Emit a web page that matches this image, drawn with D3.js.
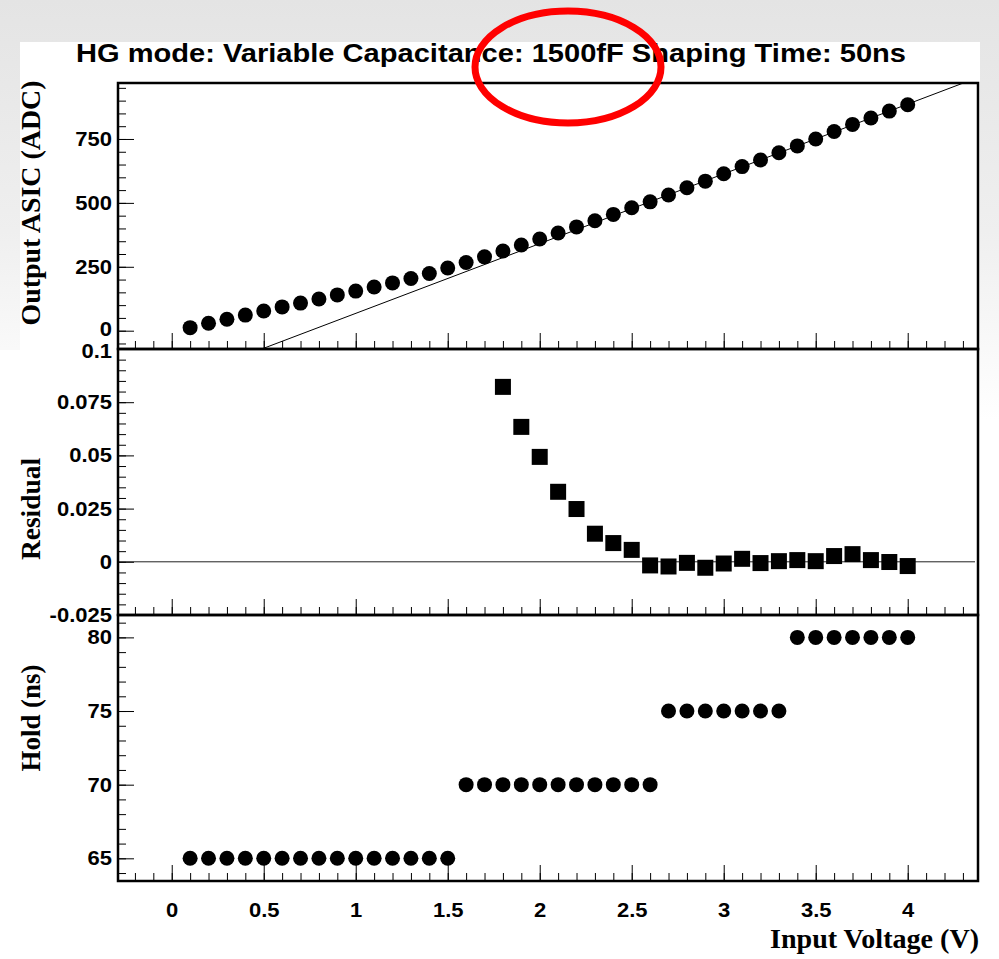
<!DOCTYPE html>
<html>
<head>
<meta charset="utf-8">
<script src="https://cdn.jsdelivr.net/npm/d3@7"></script>
<style>
  html, body { margin: 0; padding: 0; background: #fff; }
  svg { display: block; }
</style>
</head>
<body>
<svg id="chart" width="999" height="959"></svg>
<script>
// Input voltage steps (V)
const voltage = [0.1,0.2,0.3,0.4,0.5,0.6,0.7,0.8,0.9,1.0,1.1,1.2,1.3,1.4,1.5,1.6,1.7,1.8,1.9,2.0,
                 2.1,2.2,2.3,2.4,2.5,2.6,2.7,2.8,2.9,3.0,3.1,3.2,3.3,3.4,3.5,3.6,3.7,3.8,3.9,4.0];

// ASIC output (ADC counts)
const adcOutput = [12,29,45,61,77,93,108,124,140,155,171,187,204,224,245,267,289,312,335,359,
                   382,406,430,455,481,504,531,559,585,614,642,668,696,723,750,779,807,832,859,884];

// Linear fit: ADC = slope * V + intercept
const fitSlope = 272.9;
const fitIntercept = -205.1;

// Relative residuals of the fit (from 1.8 V upward)
const residualVoltage = [1.8,1.9,2.0,2.1,2.2,2.3,2.4,2.5,2.6,2.7,2.8,2.9,3.0,3.1,3.2,3.3,3.4,3.5,3.6,3.7,3.8,3.9,4.0];
const residual = [0.0822,0.0634,0.0493,0.0329,0.0248,0.0132,0.0088,0.0056,-0.0017,-0.0022,-0.0005,-0.0028,
                  -0.0008,0.0014,-0.0006,0.0003,0.0008,0.0003,0.0027,0.0036,0.0008,-0.0001,-0.0020];

// Hold time used per step (ns)
const holdTime = [65,65,65,65,65,65,65,65,65,65,65,65,65,65,65,
                  70,70,70,70,70,70,70,70,70,70,70,
                  75,75,75,75,75,75,75,
                  80,80,80,80,80,80,80];

// Tick labels
const xTicks = [0,0.5,1,1.5,2,2.5,3,3.5,4];
const adcTicks = [0,250,500,750];
const residualTicks = [-0.025,0,0.025,0.05,0.075,0.1];
const residualTickLabels = ["-0.025","0","0.025","0.05","0.075","0.1"];
const holdTicks = [65,70,75,80];

const titleText = "HG mode: Variable Capacitance: 1500fF Shaping Time: 50ns";

const svg = d3.select("#chart");
const W = 999, H = 959;

// Page background
const defs = svg.append("defs");
const grad = defs.append("linearGradient").attr("id","bg")
  .attr("gradientUnits","userSpaceOnUse").attr("x1",0).attr("x2",0).attr("y1",0).attr("y2",420);
grad.append("stop").attr("offset",0).attr("stop-color","#e4e4e4");
grad.append("stop").attr("offset",0.55).attr("stop-color","#efefef");
grad.append("stop").attr("offset",1).attr("stop-color","#ffffff");
svg.append("rect").attr("width",W).attr("height",H).attr("fill","url(#bg)");
svg.append("rect").attr("x",20).attr("y",42).attr("width",960).attr("height",H-42).attr("fill","#fff");
svg.append("rect").attr("x",0).attr("y",350).attr("width",20).attr("height",H-350).attr("fill","#fff");

// Shared layout
const left = 118, right = 978;
const panels = [
  {top: 83,  bottom: 349},
  {top: 349, bottom: 615},
  {top: 615, bottom: 881}
];

const x = d3.scaleLinear().domain([-0.292, 4.382]).range([left, right]);
const yAdc = d3.scaleLinear().domain([-71.6, 969]).range([panels[0].bottom, panels[0].top]);
const yRes = d3.scaleLinear().domain([-0.025, 0.1]).range([panels[1].bottom, panels[1].top]);
const yHold = d3.scaleLinear().domain([63.46, 81.52]).range([panels[2].bottom, panels[2].top]);

const tickFont = "'Liberation Sans', Arial, Helvetica, sans-serif";
const titleFont = "'Liberation Serif', 'Times New Roman', serif";

function range(a, b, step) {
  const out = [];
  const n = Math.round((b - a) / step);
  for (let i = 0; i <= n; i++) out.push(+(a + i * step).toFixed(6));
  return out;
}

const xMinor = range(-0.2, 4.3, 0.1);

function styleAxis(g) {
  g.select(".domain").remove();
  g.selectAll("line").attr("stroke","#000").attr("stroke-width",1);
  g.selectAll("text").attr("font-family",tickFont).attr("font-weight","bold")
    .attr("font-size","20px").attr("fill","#000")
    .each(function() {
      // tick labels are drawn slightly wide
      const t = d3.select(this);
      if (!t.text()) return;
      const w = this.getComputedTextLength();
      t.attr("textLength", w * 1.1).attr("lengthAdjust","spacingAndGlyphs");
    });
}

function drawPanel(p, yScale, majors, minors, labels, showXLabels) {
  const g = svg.append("g");
  // x ticks (minor then major), pointing up into the frame
  g.append("g").attr("transform",`translate(0,${p.bottom})`)
    .call(d3.axisBottom(x).tickValues(xMinor).tickSize(-8).tickFormat(""))
    .call(styleAxis);
  g.append("g").attr("transform",`translate(0,${p.bottom})`)
    .call(d3.axisBottom(x).tickValues(xTicks).tickSize(-16).tickPadding(22)
      .tickFormat(showXLabels ? d3.format("") : ""))
    .call(styleAxis);
  // y ticks pointing right into the frame
  g.append("g").attr("transform",`translate(${left},0)`)
    .call(d3.axisLeft(yScale).tickValues(minors).tickSize(-8).tickFormat(""))
    .call(styleAxis);
  const ya = g.append("g").attr("transform",`translate(${left},0)`)
    .call(d3.axisLeft(yScale).tickValues(majors).tickSize(-16).tickPadding(6)
      .tickFormat((d,i) => labels[i]))
    .call(styleAxis);
  return ya;
}

// Top panel: ADC output
const adcAxis = drawPanel(panels[0], yAdc, adcTicks, range(-50, 950, 50), adcTicks.map(String), false);
// Middle panel: residual
const resAxis = drawPanel(panels[1], yRes, residualTicks, range(-0.025, 0.1, 0.005), residualTickLabels, false);
// Bottom panel: hold time
drawPanel(panels[2], yHold, holdTicks, range(64, 81, 1), holdTicks.map(String), true);

// Nudge the two labels that meet at the panel boundary apart
adcAxis.selectAll(".tick").filter(d => d === 0).select("text").attr("y", -1.5);
resAxis.selectAll(".tick").filter(d => d === 0.1).select("text").attr("y", 2);

// Clip paths per panel
panels.forEach((p, i) => {
  defs.append("clipPath").attr("id", "clip" + i)
    .append("rect").attr("x", left).attr("y", p.top).attr("width", right - left).attr("height", p.bottom - p.top);
});

// Fit line
svg.append("g").attr("clip-path","url(#clip0)")
  .append("path")
  .datum(x.domain())
  .attr("d", d3.line().x(d => x(d)).y(d => yAdc(fitSlope * d + fitIntercept)))
  .attr("stroke","#000").attr("stroke-width",1).attr("fill","none");

// ADC points
svg.append("g").attr("clip-path","url(#clip0)")
  .selectAll("circle").data(voltage).join("circle")
  .attr("cx", d => x(d)).attr("cy", (d,i) => yAdc(adcOutput[i])).attr("r", 7.5).attr("fill","#000");

// Residual zero line
svg.append("line")
  .attr("x1", left).attr("x2", right - 3)
  .attr("y1", yRes(0)).attr("y2", yRes(0))
  .attr("stroke","#222").attr("stroke-width",1);

// Residual markers
const sq = 16;
svg.append("g").attr("clip-path","url(#clip1)")
  .selectAll("rect").data(residualVoltage).join("rect")
  .attr("x", d => x(d) - sq/2).attr("y", (d,i) => yRes(residual[i]) - sq/2)
  .attr("width", sq).attr("height", sq).attr("fill","#000");

// Hold points
svg.append("g").attr("clip-path","url(#clip2)")
  .selectAll("circle").data(voltage).join("circle")
  .attr("cx", d => x(d)).attr("cy", (d,i) => yHold(holdTime[i])).attr("r", 7.5).attr("fill","#000");

// Panel frames
panels.forEach(p => {
  svg.append("rect").attr("x", left).attr("y", p.top).attr("width", right - left).attr("height", p.bottom - p.top)
    .attr("fill","none").attr("stroke","#000").attr("stroke-width",2.5);
});

// Title
svg.append("text").attr("x", 76).attr("y", 62)
  .attr("font-family", tickFont).attr("font-weight","bold").attr("font-size","25px")
  .attr("textLength", 830).attr("lengthAdjust","spacingAndGlyphs")
  .text(titleText);

// Axis titles
function yTitle(text, cy, len) {
  svg.append("text")
    .attr("transform", `translate(40,${cy}) rotate(-90)`)
    .attr("text-anchor","middle")
    .attr("font-family", titleFont).attr("font-weight","bold").attr("font-size","27px")
    .attr("textLength", len).attr("lengthAdjust","spacingAndGlyphs")
    .text(text);
}
yTitle("Output ASIC (ADC)", 203, 245);
yTitle("Residual", 509, 102);
yTitle("Hold (ns)", 718, 107);

svg.append("text").attr("x", 979).attr("y", 948).attr("text-anchor","end")
  .attr("font-family", titleFont).attr("font-weight","bold").attr("font-size","28px")
  .attr("textLength", 209).attr("lengthAdjust","spacingAndGlyphs")
  .text("Input Voltage (V)");

// Highlight ellipse around the capacitance value
svg.append("ellipse").attr("cx", 568).attr("cy", 67).attr("rx", 93).attr("ry", 56)
  .attr("fill","none").attr("stroke","#f00").attr("stroke-width",7);
</script>
</body>
</html>
